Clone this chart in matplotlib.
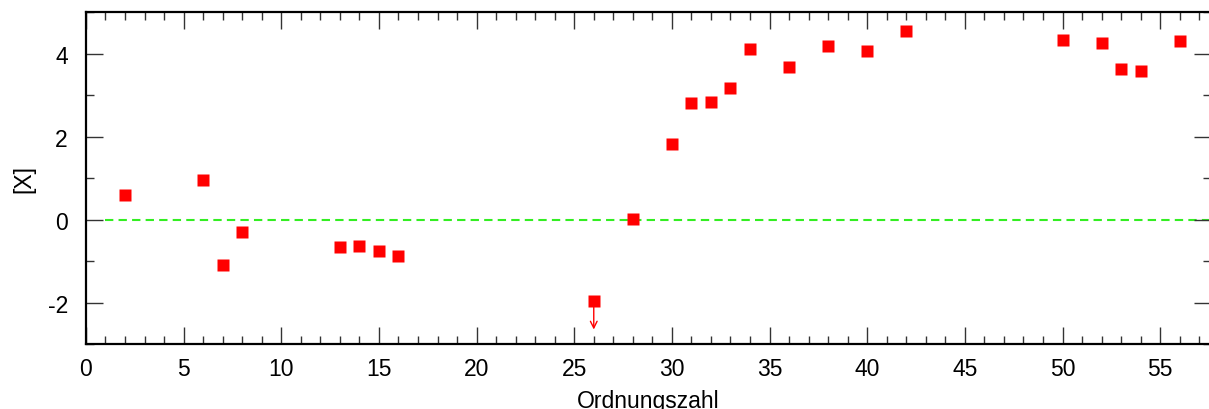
import matplotlib.pyplot as plt
from matplotlib.ticker import MultipleLocator

plt.rcParams['font.family'] = ['Liberation Sans', 'DejaVu Sans']
plt.rcParams['axes.unicode_minus'] = False

# Ordnungszahl und Häufigkeit [X]
z = [2, 6, 7, 8, 13, 14, 15, 16, 26, 28, 30, 31, 32, 33, 34, 36,
     38, 40, 42, 50, 52, 53, 54, 56]
x_val = [0.59, 0.95, -1.10, -0.29, -0.67, -0.63, -0.75, -0.87, -1.97, 0.02,
         1.82, 2.81, 2.83, 3.17, 4.10, 3.67, 4.18, 4.06, 4.54, 4.34,
         4.25, 3.62, 3.58, 4.30]
# obere Grenze (nur Pfeil nach unten)
upper_z = [26]
upper_x = [-1.97]

fig = plt.figure(figsize=(12.09, 4.10), dpi=100)
ax = fig.add_axes([0.0711, 0.1585, 0.9305, 0.8095])

ax.plot([1, 57.6], [0, 0], color='#33ee22', lw=1.5, ls=(0, (4, 2.5)), zorder=1)
ax.plot(z, x_val, 's', color='red', ms=8.6, mec='none', zorder=3)
for zz, xx in zip(upper_z, upper_x):
    ax.annotate('', xy=(zz, xx - 0.68), xytext=(zz, xx - 0.12),
                arrowprops=dict(arrowstyle='->', color='red', lw=1.0,
                                mutation_scale=12, shrinkA=0, shrinkB=0))

ax.set_xlim(0, 57.6)
ax.set_ylim(-3, 5)
ax.xaxis.set_major_locator(MultipleLocator(5))
ax.xaxis.set_minor_locator(MultipleLocator(1))
ax.yaxis.set_minor_locator(MultipleLocator(1))
ax.set_yticks([-2, 0, 2, 4])

ax.tick_params(which='both', direction='in', top=True, right=True,
               labelsize=16.5, color='#333333')
ax.tick_params(which='major', length=12, width=1.0)
ax.tick_params(which='minor', length=6, width=1.0)
ax.tick_params(axis='x', pad=9)
ax.tick_params(axis='y', pad=13)
for s in ax.spines.values():
    s.set_linewidth(1.6)

ax.set_xlabel('Ordnungszahl', fontsize=16.5, labelpad=7)
ax.set_ylabel('[X]', fontsize=16.5, labelpad=9)

fig.savefig('out.png', dpi=100)
